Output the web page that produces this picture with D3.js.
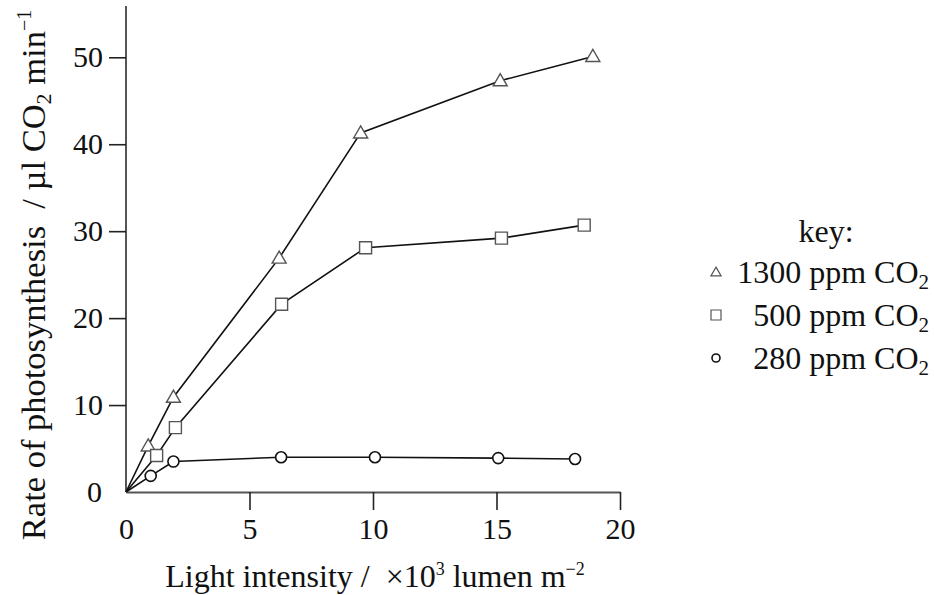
<!DOCTYPE html>
<html lang="en">
<head>
    <meta charset="UTF-8">
    <title>Rate of photosynthesis</title>
    <style>
        body {
            margin: 0;
            padding: 0;
            background-color: #fff;
        }
        svg text {
            font-family: 'Liberation Serif', 'Times New Roman', serif;
            fill: #111;
            white-space: pre;
        }
        .axis path {
            stroke: #555;
            stroke-width: 2px;
        }
        .axis line {
            stroke: #222;
            stroke-width: 1.6px;
        }
        .series-line {
            fill: none;
            stroke: #111;
            stroke-width: 1.6px;
        }
    </style>
</head>
<body>
    <div id="chart"></div>

    <script src="https://d3js.org/d3.v7.min.js"></script>
    <script>
        // values (light intensity, rate)
        const co2_1300 = [[0, 0], [0.9, 5.3], [1.92, 10.9], [6.2, 26.9], [9.5, 41.3], [15.15, 47.3], [18.9, 50.1]];
        const co2_500 = [[0, 0], [1.24, 4.2], [2.0, 7.4], [6.3, 21.6], [9.7, 28.1], [15.2, 29.2], [18.55, 30.7]];
        const co2_280 = [[0, 0], [1.0, 1.85], [1.92, 3.5], [6.28, 4.0], [10.08, 4.0], [15.07, 3.9], [18.18, 3.8]];

        const seriesNames = ['1300', '500', '280'];
        const xTicks = [0, 5, 10, 15, 20];
        const yTicks = [0, 10, 20, 30, 40, 50];

        const width = 934;
        const height = 595;
        const margin = { top: 6, left: 126, right: 314, bottom: 103 };

        const svg = d3.select('#chart')
            .append('svg')
            .attr('width', width)
            .attr('height', height);

        const x = d3.scaleLinear().domain([0, 20]).range([margin.left, width - margin.right]);
        const y = d3.scaleLinear().domain([0, 55.9]).range([height - margin.bottom, margin.top]);

        // axes
        const xAxis = svg.append('g')
            .attr('class', 'axis')
            .attr('transform', `translate(0, ${y(0)})`)
            .call(d3.axisBottom(x).tickValues(xTicks).tickSize(18).tickSizeOuter(0).tickPadding(8));

        const yAxis = svg.append('g')
            .attr('class', 'axis')
            .attr('transform', `translate(${x(0)}, 0)`)
            .call(d3.axisLeft(y).tickValues(yTicks).tickSize(17).tickSizeOuter(0).tickPadding(6));

        yAxis.select('.domain').attr('d', `M0,${y(55.9)}V${y(0)}`);

        svg.selectAll('.axis text')
            .style('font-size', '30px')
            .style('font-family', "'Liberation Serif', serif")
            .attr('fill', '#111');

        // y=0 label sits lower, no tick
        yAxis.selectAll('.tick').filter(d => d === 0).select('line').remove();
        yAxis.selectAll('.tick').filter(d => d === 0).select('text').attr('x', -24);
        // x=0 tick has no line either
        xAxis.selectAll('.tick').filter(d => d === 0).select('line').remove();

        // lines
        const line = d3.line().x(d => x(d[0])).y(d => y(d[1]));
        [co2_1300, co2_500, co2_280].forEach(s => {
            svg.append('path')
                .datum(s)
                .attr('class', 'series-line')
                .attr('d', line);
        });

        // markers
        const tri = d3.symbol().type(d3.symbolTriangle).size(85);
        const sq = d3.symbol().type(d3.symbolSquare).size(144);

        svg.selectAll('.tri')
            .data(co2_1300.slice(1))
            .enter()
            .append('path')
            .attr('class', 'tri')
            .attr('d', tri)
            .attr('transform', d => `translate(${x(d[0])}, ${y(d[1]) + 1})`)
            .attr('fill', '#fff')
            .attr('stroke', '#555')
            .attr('stroke-width', 1.4);

        svg.selectAll('.sq')
            .data(co2_500.slice(1))
            .enter()
            .append('path')
            .attr('class', 'sq')
            .attr('d', sq)
            .attr('transform', d => `translate(${x(d[0])}, ${y(d[1])})`)
            .attr('fill', '#fff')
            .attr('stroke', '#555')
            .attr('stroke-width', 1.4);

        svg.selectAll('.circ')
            .data(co2_280.slice(1))
            .enter()
            .append('circle')
            .attr('class', 'circ')
            .attr('cx', d => x(d[0]))
            .attr('cy', d => y(d[1]))
            .attr('r', 5.5)
            .attr('fill', '#fff')
            .attr('stroke', '#111')
            .attr('stroke-width', 1.6);

        // axis titles
        const xTitle = svg.append('text')
            .attr('x', (x(0) + x(20)) / 2 + 2)
            .attr('y', 587)
            .attr('text-anchor', 'middle')
            .style('font-size', '32px');
        xTitle.append('tspan').text('Light intensity /  ×10');
        xTitle.append('tspan').attr('dy', -12).style('font-size', '18px').text('3');
        xTitle.append('tspan').attr('dy', 12).text(' lumen m');
        xTitle.append('tspan').attr('dy', -12).style('font-size', '18px').text('−2');

        const yTitle = svg.append('text')
            .attr('transform', `translate(45, 275) rotate(-90)`)
            .attr('text-anchor', 'middle')
            .style('font-size', '34.5px');
        yTitle.append('tspan').text('Rate of photosynthesis  / µl CO');
        yTitle.append('tspan').attr('dy', 6).style('font-size', '22px').text('2');
        yTitle.append('tspan').attr('dy', -6).text(' min');
        yTitle.append('tspan').attr('dy', -14).style('font-size', '20px').text('−1');

        // key
        svg.append('text')
            .attr('x', 826)
            .attr('y', 242)
            .attr('text-anchor', 'middle')
            .style('font-size', '32px')
            .text('key:');

        const keyRows = [
            { name: seriesNames[0], y: 283 },
            { name: seriesNames[1], y: 326 },
            { name: seriesNames[2], y: 369 }
        ];

        keyRows.forEach((r, i) => {
            const t = svg.append('text')
                .attr('x', 929)
                .attr('y', r.y)
                .attr('text-anchor', 'end')
                .style('font-size', '32px');
            t.append('tspan').text(r.name + ' ppm CO');
            t.append('tspan').attr('dy', 6).style('font-size', '21px').text('2');

            const mx = 716, my = r.y - 11;
            if (i === 0) {
                svg.append('path')
                    .attr('d', d3.symbol().type(d3.symbolTriangle).size(45))
                    .attr('transform', `translate(${mx}, ${my + 1})`)
                    .attr('fill', '#fff').attr('stroke', '#555').attr('stroke-width', 1.2);
            } else if (i === 1) {
                svg.append('path')
                    .attr('d', d3.symbol().type(d3.symbolSquare).size(100))
                    .attr('transform', `translate(${mx}, ${my})`)
                    .attr('fill', '#fff').attr('stroke', '#555').attr('stroke-width', 1.2);
            } else {
                svg.append('circle')
                    .attr('cx', mx).attr('cy', my).attr('r', 4)
                    .attr('fill', '#fff').attr('stroke', '#111').attr('stroke-width', 1.6);
            }
        });
    </script>
</body>
</html>
